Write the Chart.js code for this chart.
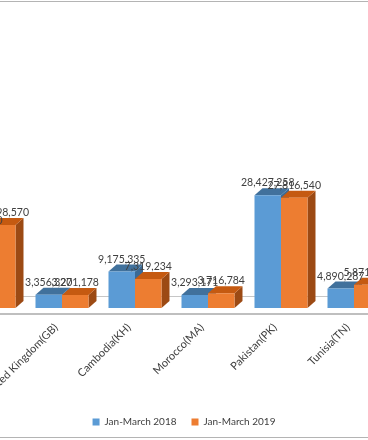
<!DOCTYPE html>
<html>
<head>
<meta charset="utf-8">
<script src="https://cdn.jsdelivr.net/npm/chart.js@4.4.1/dist/chart.umd.min.js"></script>
<style>
  html, body { margin: 0; padding: 0; background: #fff; }
  #wrap { position: relative; width: 368px; height: 440px; overflow: hidden; }
  #chart { position: absolute; left: -150px; top: 0; }
</style>
</head>
<body>
<div id="wrap"><canvas id="chart" width="668" height="440"></canvas></div>
<script>
// chart is cropped on both sides, first category only partly visible
const categories = ['Bangladesh(BD)', 'United Kingdom(GB)', 'Cambodia(KH)', 'Morocco(MA)', 'Pakistan(PK)', 'Tunisia(TN)'];
const seriesNames = ['Jan-March 2018', 'Jan-March 2019'];
const jan2018 = [18900000, 3356320, 9175335, 3293171, 28427258, 4890287];
const jan2019 = [20898570, 3271178, 7319234, 3716784, 27816540, 5871400];

const DX = 8, DY = 7;
const faceColors = [
  { top: '#41719c', side: '#3a6a96' },
  { top: '#c55a11', side: '#9c4a14' }
];

function fmt(v) {
  return String(v).replace(/\B(?=(\d{3})+(?!\d))/g, ',');
}

function poly(ctx, pts) {
  ctx.beginPath();
  ctx.moveTo(pts[0][0], pts[0][1]);
  for (let i = 1; i < pts.length; i++) ctx.lineTo(pts[i][0], pts[i][1]);
  ctx.closePath();
  ctx.fill();
}

const bar3d = {
  id: 'bar3d',
  beforeDatasetsDraw(chart) {
    const ctx = chart.ctx;
    const base = chart.scales.y.getPixelForValue(0);
    ctx.save();
    // back edge of the floor
    ctx.strokeStyle = '#c6c6c6';
    ctx.lineWidth = 1;
    ctx.beginPath();
    ctx.moveTo(0, base - 11.5);
    ctx.lineTo(chart.width, base - 11.5);
    ctx.stroke();
    // category axis
    ctx.strokeStyle = '#bfbfbf';
    ctx.lineWidth = 2;
    ctx.beginPath();
    ctx.moveTo(0, base + 6);
    ctx.lineTo(chart.width, base + 6);
    ctx.stroke();

    chart.data.datasets.forEach((ds, i) => {
      chart.getDatasetMeta(i).data.forEach(bar => {
        const l = bar.x - bar.width / 2, r = bar.x + bar.width / 2;
        const t = bar.y, b = bar.base;
        ctx.fillStyle = faceColors[i].side;
        poly(ctx, [[r, t], [r + DX, t - DY], [r + DX, b - DY], [r, b]]);
        ctx.fillStyle = faceColors[i].top;
        poly(ctx, [[l, t], [l + DX, t - DY], [r + DX, t - DY], [r, t]]);
      });
    });
    ctx.restore();
  },
  afterDatasetsDraw(chart) {
    const ctx = chart.ctx;
    ctx.save();
    ctx.font = '10.5px Lato';
    ctx.fillStyle = '#404040';
    ctx.textAlign = 'center';
    ctx.textBaseline = 'alphabetic';
    chart.data.datasets.forEach((ds, i) => {
      chart.getDatasetMeta(i).data.forEach((bar, j) => {
        ctx.fillText(fmt(ds.data[j]), bar.x, bar.y - DY - 2);
      });
    });
    ctx.restore();
  },
  afterDraw(chart) {
    const ctx = chart.ctx;
    ctx.save();
    ctx.strokeStyle = '#b4b4b4';
    ctx.lineWidth = 1;
    ctx.beginPath();
    ctx.moveTo(0, 1.5); ctx.lineTo(chart.width, 1.5);
    ctx.moveTo(0, 437.5); ctx.lineTo(chart.width, 437.5);
    ctx.stroke();
    ctx.restore();
  }
};

new Chart(document.getElementById('chart'), {
  type: 'bar',
  data: {
    labels: categories,
    datasets: [
      { label: seriesNames[0], data: jan2018, backgroundColor: '#5b9bd5', borderWidth: 0, categoryPercentage: 0.726, barPercentage: 1 },
      { label: seriesNames[1], data: jan2019, backgroundColor: '#ed7d31', borderWidth: 0, categoryPercentage: 0.726, barPercentage: 1 }
    ]
  },
  options: {
    responsive: false,
    animation: false,
    layout: { padding: { left: 102.5, right: 102.5, top: 189, bottom: 3 } },
    plugins: {
      legend: {
        position: 'bottom',
        labels: { boxWidth: 7, boxHeight: 7, padding: 15, color: '#404040', font: { family: 'Lato', size: 10 } }
      },
      tooltip: { enabled: false }
    },
    scales: {
      x: {
        grid: { display: false, drawTicks: false },
        border: { display: false },
        ticks: { autoSkip: false, minRotation: 45, maxRotation: 45, padding: 13, labelOffset: -6, color: '#404040', font: { family: 'Lato', size: 11 } },
        afterFit(s) { s.height = 94; s.paddingLeft = 0; s.paddingRight = 0; }
      },
      y: {
        position: 'right',
        min: 0,
        max: 30000000,
        grid: { display: false },
        border: { display: false },
        ticks: { display: false },
        afterFit(s) { s.width = 25; }
      }
    }
  },
  plugins: [bar3d]
});
</script>
</body>
</html>
